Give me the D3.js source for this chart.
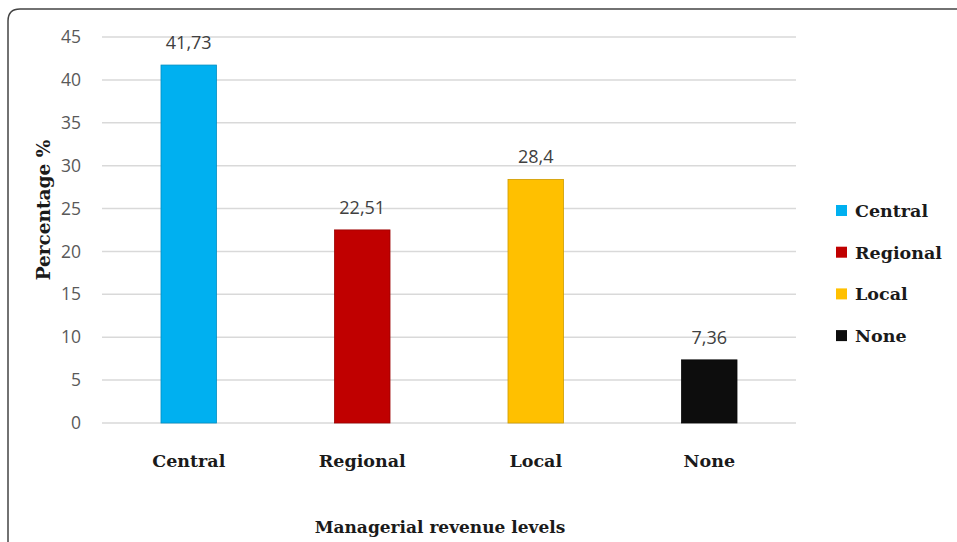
<!DOCTYPE html>
<html><head><meta charset="utf-8">
<script src="https://cdn.jsdelivr.net/npm/d3@7"></script>
<style>body{margin:0;background:#fff;}svg{display:block;}</style>
</head><body>
<svg id="chart" width="957" height="542"></svg>
<script>
const categories = ["Central", "Regional", "Local", "None"];
const values = [41.73, 22.51, 28.4, 7.36];
const valueLabels = ["41,73", "22,51", "28,4", "7,36"];
const colors = ["#00b0f0", "#c00000", "#ffc000", "#0d0d0d"];
const yTicks = [0, 5, 10, 15, 20, 25, 30, 35, 40, 45];
const xTitle = "Managerial revenue levels";
const yTitle = "Percentage %";

const svg = d3.select("#chart");
const serif = "'DejaVu Serif','Liberation Serif',serif";
const sans = "'Open Sans','Liberation Sans',sans-serif";

// frame
svg.append("path")
  .attr("d", "M8,560 L8,21 Q8,9 20,9 L975,9")
  .attr("fill", "none").attr("stroke", "#444").attr("stroke-width", 1.5);

const x = d3.scaleBand().domain(categories).range([102, 796]).paddingInner(0.68).paddingOuter(0.34);
const y = d3.scaleLinear().domain([0, 45]).range([423, 37]);

// gridlines
svg.append("g").selectAll("line").data(yTicks).join("line")
  .attr("x1", 102).attr("x2", 796)
  .attr("y1", d => y(d)).attr("y2", d => y(d))
  .attr("stroke", "#d9d9d9").attr("stroke-width", 1.5);

// y axis labels
const yAxis = svg.append("g").attr("transform", "translate(96,0)")
  .call(d3.axisLeft(y).tickValues(yTicks).tickSize(0).tickPadding(15));
yAxis.select(".domain").remove();
yAxis.selectAll("text").attr("font-family", sans).attr("font-size", 17.5).attr("fill", "#595959");

// bars
svg.append("g").selectAll("rect").data(values).join("rect")
  .attr("x", (d, i) => x(categories[i]))
  .attr("width", x.bandwidth())
  .attr("y", d => y(d))
  .attr("height", d => y(0) - y(d))
  .attr("fill", (d, i) => colors[i])
  .attr("stroke", (d, i) => d3.color(colors[i]).darker(0.6))
  .attr("stroke-width", 0.8);

// value labels
svg.append("g").selectAll("text").data(values).join("text")
  .attr("x", (d, i) => x(categories[i]) + x.bandwidth() / 2)
  .attr("y", d => y(d) - 16)
  .attr("text-anchor", "middle")
  .attr("font-family", sans).attr("font-size", 18).attr("fill", "#404040")
  .text((d, i) => valueLabels[i]);

// category labels
const xAxis = svg.append("g").attr("transform", "translate(0,423)")
  .call(d3.axisBottom(x).tickSize(0).tickPadding(32));
xAxis.select(".domain").remove();
xAxis.selectAll("text").attr("font-family", serif).attr("font-size", 17.5)
  .attr("font-weight", "bold").attr("fill", "#1a1a1a");

// axis titles
svg.append("text").attr("x", 440).attr("y", 533).attr("text-anchor", "middle")
  .attr("font-family", serif).attr("font-size", 17).attr("font-weight", "bold")
  .attr("fill", "#1a1a1a").text(xTitle);
svg.append("text").attr("transform", "translate(50,210) rotate(-90)").attr("text-anchor", "middle")
  .attr("font-family", serif).attr("font-size", 18.5).attr("font-weight", "bold")
  .attr("fill", "#1a1a1a").text(yTitle);

// legend
const leg = svg.append("g").selectAll("g").data(categories).join("g")
  .attr("transform", (d, i) => `translate(836,${211 + i * 41.7})`);
leg.append("rect").attr("x", 0).attr("y", -6).attr("width", 11).attr("height", 11)
  .attr("fill", (d, i) => colors[i]);
leg.append("text").attr("x", 19).attr("y", 6)
  .attr("font-family", serif).attr("font-size", 17.5).attr("font-weight", "bold")
  .attr("fill", "#1a1a1a").text(d => d);
</script>
</body></html>
